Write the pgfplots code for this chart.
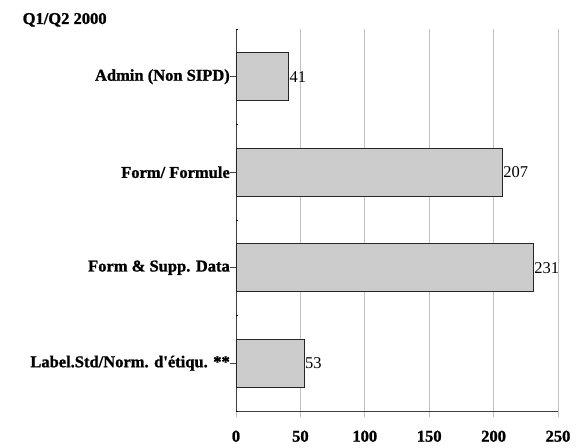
\documentclass[border=0pt]{standalone}
\usepackage{fontspec}
\setmainfont{Liberation Serif}[BoldFeatures={FakeBold=1.2}]
\usepackage{pgfplots}
\pgfplotsset{compat=1.18}
\usetikzlibrary{calc}
\definecolor{barfill}{HTML}{CCCCCC}
\definecolor{gridc}{HTML}{C0C0C0}
\newcommand{\fs}{\fontsize{16.5bp}{19bp}\selectfont}
\begin{document}
\fs
\begin{tikzpicture}
\begin{axis}[
  name=ax,
  scale only axis,
  width=322bp, height=382bp,
  xbar, bar width=48bp,
  xmin=0, xmax=250,
  ymin=-0.5, ymax=3.5,
  xtick={0,50,100,150,200,250},
  ytick={0,1,2,3},
  yticklabels={{Label.Std/Norm. d\textquotesingle étiqu. **},{Form \& Supp. Data},{Form/ Formule},{Admin (Non SIPD)}},
  axis x line*=bottom, axis y line*=left,
  axis line style={-, draw=black!75, line width=0.8pt},
  xmajorgrids, major grid style={draw=gridc, line width=0.8pt},
  tick align=outside, major tick length=6bp,
  tick style={draw=black!75, line width=0.6pt},
  xtick style={draw=gridc},
  /pgf/number format/assume math mode=true,
  xticklabel style={font=\fs\bfseries, yshift=-8bp},
  yticklabel style={font=\fs\bfseries, inner sep=0pt, xshift=0pt},
  extra y ticks={-0.5,0.5,1.5,2.5,3.5},
  extra y tick labels={},
  extra y tick style={tick align=inside, major tick length=2bp, tick style={draw=black}},
  nodes near coords,
  nodes near coords style={font=\fs, anchor=west, inner xsep=0.5bp},
  every node near coord/.append style={/pgf/number format/assume math mode=true},
]
\addplot[fill=barfill, draw=black!85, line width=0.7pt] coordinates {(53,0) (231,1) (207,2) (41,3)};
\end{axis}
\node[anchor=base west, font=\fs\bfseries] at ($(ax.north west)+(-219bp,5bp)$) {Q1/Q2 2000};
\path[use as bounding box] ($(ax.south west)+(-236bp,-35bp)$) rectangle ($(ax.north east)+(30bp,29bp)$);
\end{tikzpicture}
\end{document}
